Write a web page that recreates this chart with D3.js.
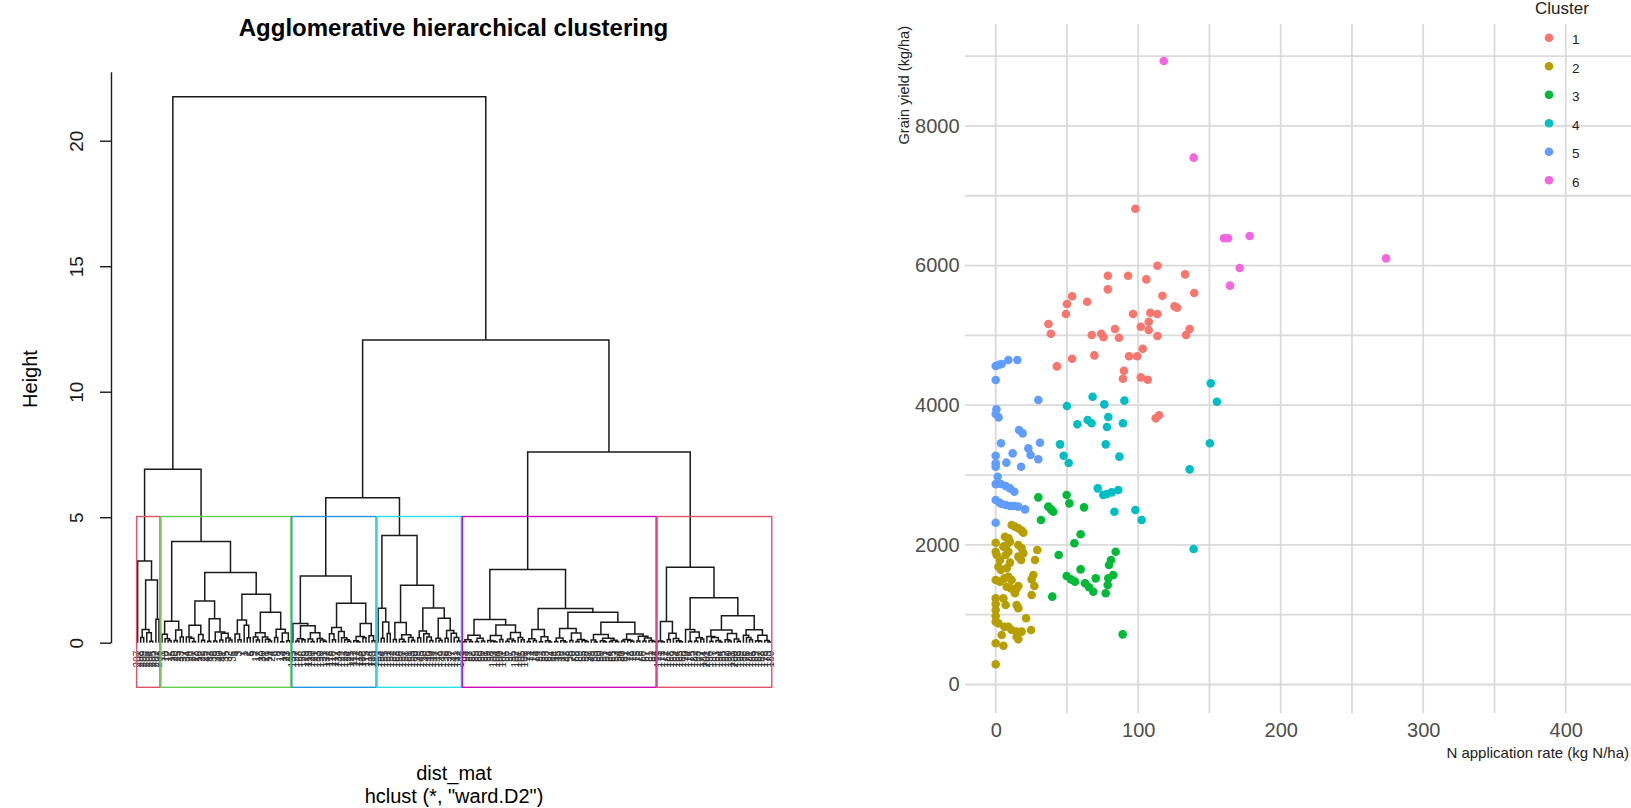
<!DOCTYPE html>
<html>
<head>
<meta charset="utf-8">
<script src="https://cdn.jsdelivr.net/npm/d3@7"></script>
<style>
  body { margin: 0; background: #fff; }
  svg { display: block; font-family: "Liberation Sans", Arial, sans-serif; }
</style>
</head>
<body>
<div id="chart"></div>
<script>
// datos: N aplicado (kg N/ha), rendimiento (kg/ha), por cluster
const cluster1 = [[98,6814],[113.5,5998],[78.7,5854],[92.9,5854],[105.7,5802],[132.9,5874],[78.7,5659],[139.3,5606],[117,5568],[53.6,5560],[64.2,5482],[50,5449],[125.5,5415],[127.3,5395],[49.3,5306],[96.4,5306],[108.5,5325],[113.5,5306],[107.4,5196],[37,5163],[101.8,5124],[83.7,5091],[136.1,5091],[107.4,5077],[38.7,5024],[67.4,5005],[74.1,5024],[75.6,4973],[86.5,4967],[113.5,4991],[133.6,5005],[103.2,4809],[53.6,4666],[69.2,4714],[93.6,4700],[99.3,4700],[42.9,4556],[90,4494],[89.3,4379],[101.8,4399],[106.7,4365],[112.3,3812],[114.6,3855]]
const cluster2 = [[11.2,2284],[13.5,2261],[15.9,2237],[18.2,2204],[19.4,2175],[0,2031],[6.5,2117],[8.9,2093],[10,2046],[7.7,1998],[5.4,1974],[15.9,1998],[18.2,1950],[19.4,1879],[29.2,1926],[0,1902],[0.7,1854],[3,1783],[1.9,1687],[3.7,1640],[8.9,1902],[7,1854],[10,1745],[7.7,1664],[15.9,1831],[17.8,1783],[27.6,1783],[26.4,1568],[25.2,1506],[27.1,1411],[25.2,1282],[0,1497],[3,1473],[6.1,1520],[8.9,1544],[11.2,1497],[7.7,1401],[10.7,1377],[14.7,1377],[13.5,1306],[15.9,1411],[0,1234],[0,1153],[0,1067],[0,981],[0,900],[5.4,1234],[7,1139],[14.7,1139],[15.9,1091],[1.9,876],[6.1,828],[8.9,828],[11.2,781],[14.7,757],[18.2,757],[21.3,948],[24.8,781],[4.2,709],[14.7,685],[15.9,647],[0,590],[5.4,556],[0,289]]
const cluster3 = [[29.9,2680],[49.8,2714],[51.7,2594],[36.9,2547],[38.8,2508],[40.4,2475],[62,2537],[31.8,2356],[59.6,2151],[55.2,2022],[44.2,1854],[84.2,1902],[80.9,1783],[79.5,1711],[59.6,1649],[49.8,1554],[52.8,1506],[55.6,1473],[70.2,1520],[62.7,1449],[65.5,1392],[68.5,1329],[82.5,1568],[79,1520],[78.6,1425],[77.2,1306],[39.7,1258],[89.1,718]]
const cluster4 = [[68,4122],[50,3988],[76.2,4012],[90.3,4065],[79,3831],[57.3,3726],[64.5,3788],[67.3,3741],[78.1,3688],[89.3,3741],[77.2,3439],[45.1,3439],[47.7,3277],[51.2,3172],[86.8,3263],[150.3,3454],[136.1,3081],[138.9,1940],[150.9,4313],[155.2,4050],[71.6,2809],[75.5,2714],[77.9,2728],[81.4,2752],[86,2785],[83.3,2475],[98,2499],[102.4,2356]]
const cluster5 = [[0,4561],[2.3,4580],[4.2,4590],[8.9,4647],[15.2,4647],[0,4361],[29.9,4074],[0.5,3941],[0,3874],[2,3826],[16.4,3645],[18.9,3597],[3.7,3454],[31.1,3463],[0,3277],[0,3167],[0,3120],[11.9,3310],[22.9,3382],[24.5,3287],[29.9,3225],[7.5,3177],[17.8,3119],[1.4,2976],[0,2870],[3.7,2871],[7,2843],[10,2809],[13.1,2761],[0,2642],[2.8,2604],[4.2,2585],[7,2570],[10,2556],[13.1,2556],[15.9,2547],[20.6,2508],[0,2317]]
const cluster6 = [[117.9,8929],[138.9,7545],[160.2,6390],[163,6390],[178.2,6423],[273.9,6103],[171.2,5965],[164.4,5712]]

const clusterNames = ["1", "2", "3", "4", "5", "6"]
const clusterColors = ["#F8766D", "#B79F00", "#00BA38", "#00BFC4", "#619CFF", "#F564E3"]
const boxColors = ["#DF536B", "#61D04F", "#2297E6", "#28E2E5", "#CD0BBC"]

const clusterMerges = [
    { id: "A", left: "6", right: "1", h: 6.91 },
    { id: "B", left: "3", right: "4", h: 5.78 },
    { id: "C", left: "2", right: "5", h: 7.60 },
    { id: "D", left: "B", right: "C", h: 12.06 },
    { id: "root", left: "A", right: "D", h: 21.75 }
]

const heightTicks = [0, 5, 10, 15, 20]
const xTicks = [0, 100, 200, 300, 400]
const yTicks = [0, 2000, 4000, 6000, 8000]

const width = 1631
const height = 808

const points = []
;[cluster1, cluster2, cluster3, cluster4, cluster5, cluster6].forEach((arr, ci) => {
    arr.forEach(d => points.push({ n: d[0], y: d[1], cluster: ci }))
})
const nLeaves = points.length

const svg = d3.select("div#chart").append("svg").attr("width", width).attr("height", height)

// ---------- ward.D2 dentro de cada cluster (datos escalados) ----------
const zN = (() => { const m = d3.mean(points, d => d.n), s = d3.deviation(points, d => d.n); return points.map(d => (d.n - m) / s) })()
const zY = (() => { const m = d3.mean(points, d => d.y), s = d3.deviation(points, d => d.y); return points.map(d => (d.y - m) / s) })()

function wardD2(members) {
    const n = members.length
    if (n === 1) return { leaf: members[0] }
    const D = d3.range(n).map(() => new Float64Array(n))
    for (let i = 0; i < n; i++) for (let j = i + 1; j < n; j++) {
        const a = zN[members[i]] - zN[members[j]], b = zY[members[i]] - zY[members[j]]
        D[i][j] = D[j][i] = a * a + b * b
    }
    const size = new Array(n).fill(1)
    const active = new Array(n).fill(true)
    const ids = d3.range(n).map(i => -(i + 1))
    const nodes = []
    const node = id => id < 0 ? { leaf: members[-id - 1] } : nodes[id - 1]
    for (let step = 1; step < n; step++) {
        let best = Infinity, bi = -1, bj = -1
        for (let i = 0; i < n; i++) {
            if (!active[i]) continue
            for (let j = i + 1; j < n; j++) {
                if (active[j] && D[i][j] < best) { best = D[i][j]; bi = i; bj = j }
            }
        }
        const ni = size[bi], nj = size[bj]
        for (let k = 0; k < n; k++) {
            if (!active[k] || k === bi || k === bj) continue
            const nk = size[k]
            D[bi][k] = D[k][bi] = ((ni + nk) * D[bi][k] + (nj + nk) * D[bj][k] - nk * best) / (ni + nj + nk)
        }
        // orden de R: primero los individuos, luego el cluster formado antes
        let a = ids[bi], b = ids[bj]
        if (a > 0 && b < 0) [a, b] = [b, a]
        if (a > 0 && b > 0 && a > b) [a, b] = [b, a]
        nodes.push({ left: node(a), right: node(b), h: Math.sqrt(Math.max(best, 0)) })
        ids[bi] = step; size[bi] = ni + nj; active[bj] = false
    }
    return nodes[n - 2]
}

const treeNodes = {}
clusterNames.forEach((name, ci) => {
    const members = d3.range(nLeaves).filter(i => points[i].cluster === ci)
    treeNodes[name] = wardD2(members)
    treeNodes[name].clusterIndex = ci
})
clusterMerges.forEach(m => {
    treeNodes[m.id] = { left: treeNodes[m.left], right: treeNodes[m.right], h: m.h }
})
const root = treeNodes["root"]

// orden de las hojas y posiciones
const order = []
const rank = new Array(nLeaves)
function walk(nd) {
    if (nd.leaf !== undefined) { order.push(nd.leaf); rank[nd.leaf] = order.length; return }
    walk(nd.left); walk(nd.right)
}
walk(root)

const allMerges = []
function place(nd) {
    if (nd.leaf !== undefined) { nd.x = rank[nd.leaf]; nd.hh = 0; return }
    place(nd.left); place(nd.right)
    nd.x = (nd.left.x + nd.right.x) / 2
    nd.hh = nd.h
    allMerges.push(nd)
}
place(root)

// ---------- dendrograma ----------
const xD = d3.scaleLinear().domain([0.66, nLeaves + 0.33]).range([136.6, 771.8])
const hD = d3.scaleLinear().domain([0, 22.75]).range([642.7, 71.7])

const dendro = svg.append("g").attr("class", "dendro")

dendro.append("g").selectAll("path").data(allMerges).join("path")
    .attr("d", d => `M${xD(d.left.x)},${hD(d.left.hh)}V${hD(d.h)}H${xD(d.right.x)}V${hD(d.right.hh)}`)
    .attr("fill", "none").attr("stroke", "#1a1a1a").attr("stroke-width", 1.5)

// etiquetas de las hojas
dendro.append("g").selectAll("text").data(order).join("text")
    .attr("transform", p => `translate(${xD(rank[p]) + 3.5},${hD(0) + 8}) rotate(-90)`)
    .attr("text-anchor", "end")
    .attr("font-size", 10)
    .attr("fill", "#333")
    .text(p => p + 1)

// rect.hclust(k = 6)
const sortedH = allMerges.map(m => m.h).sort((a, b) => b - a)
const cutTop = (sortedH[4] + sortedH[5]) / 2
const boxes = clusterNames.map(name => d3.extent(order.filter(p => points[p].cluster === treeNodes[name].clusterIndex), p => rank[p]))
    .sort((a, b) => a[0] - b[0])
dendro.append("g").selectAll("rect").data(boxes).join("rect")
    .attr("x", d => xD(d[0] - 0.34))
    .attr("y", hD(cutTop))
    .attr("width", d => xD(d[1] + 0.33) - xD(d[0] - 0.34))
    .attr("height", 687.3 - hD(cutTop))
    .attr("fill", "none")
    .attr("stroke", (d, i) => boxColors[i % boxColors.length])
    .attr("stroke-width", 1.4)

// eje de alturas
const hAxis = d3.axisLeft(hD).tickValues(heightTicks).tickSizeInner(11).tickSizeOuter(0)
const hAxisGroup = dendro.append("g").attr("transform", "translate(111,0)").call(hAxis)
hAxisGroup.select(".domain").attr("stroke", "#1a1a1a").attr("stroke-width", 1.4)
hAxisGroup.selectAll(".tick line").attr("stroke", "#1a1a1a").attr("stroke-width", 1.4)
hAxisGroup.selectAll(".tick text")
    .attr("x", 0).attr("dy", 0)
    .attr("transform", "translate(-28.5,0) rotate(-90)")
    .attr("text-anchor", "middle")
    .attr("font-size", 19).attr("fill", "#1a1a1a")
    .style("font-family", "'Liberation Sans', Arial, sans-serif")

dendro.append("text").attr("x", 453.5).attr("y", 36)
    .attr("text-anchor", "middle").attr("font-size", 24).attr("font-weight", "bold")
    .text("Agglomerative hierarchical clustering")
dendro.append("text").attr("transform", "translate(37,379) rotate(-90)")
    .attr("text-anchor", "middle").attr("font-size", 20).text("Height")
dendro.append("text").attr("x", 454).attr("y", 780)
    .attr("text-anchor", "middle").attr("font-size", 20).text("dist_mat")
dendro.append("text").attr("x", 454).attr("y", 803)
    .attr("text-anchor", "middle").attr("font-size", 20).text('hclust (*, "ward.D2")')

// ---------- dispersión ----------
const x = d3.scaleLinear().domain([0, 400]).range([995.7, 1565.7])
const y = d3.scaleLinear().domain([0, 8000]).range([684.5, 125.9])
const panel = { left: 965, right: 1640, top: 24, bottom: 713 }

const scatter = svg.append("g").attr("class", "scatter")
const grid = scatter.append("g")
grid.selectAll("line.v").data(d3.range(0, 451, 50)).join("line").attr("class", "v")
    .attr("x1", d => x(d)).attr("x2", d => x(d))
    .attr("y1", panel.top).attr("y2", panel.bottom)
grid.selectAll("line.h").data(d3.range(0, 9001, 1000)).join("line").attr("class", "h")
    .attr("x1", panel.left).attr("x2", panel.right)
    .attr("y1", d => y(d)).attr("y2", d => y(d))
grid.selectAll("line").attr("stroke", "#dadada").attr("stroke-width", 1.8)

const xAxis = d3.axisBottom(x).tickValues(xTicks).tickSize(0).tickPadding(10).tickFormat(d3.format("d"))
const yAxis = d3.axisLeft(y).tickValues(yTicks).tickSize(0).tickPadding(5.4).tickFormat(d3.format("d"))
const xAxisGroup = scatter.append("g").attr("transform", `translate(0,${panel.bottom})`).call(xAxis)
const yAxisGroup = scatter.append("g").attr("transform", `translate(${panel.left},0)`).call(yAxis)
;[xAxisGroup, yAxisGroup].forEach(g => {
    g.select(".domain").remove()
    g.selectAll("text").attr("font-size", 20).attr("fill", "#4d4d4d")
        .style("font-family", "'Liberation Sans', Arial, sans-serif")
})

scatter.append("g").selectAll("circle").data(points).join("circle")
    .attr("cx", d => x(d.n)).attr("cy", d => y(d.y)).attr("r", 4.3)
    .attr("fill", d => clusterColors[d.cluster])

scatter.append("text").attr("x", 1629).attr("y", 757.5)
    .attr("text-anchor", "end").attr("font-size", 15).attr("fill", "#222")
    .text("N application rate (kg N/ha)")
scatter.append("text").attr("transform", "translate(908.5,26) rotate(-90)")
    .attr("text-anchor", "end").attr("font-size", 14.5).attr("fill", "#222")
    .text("Grain yield (kg/ha)")

// leyenda
const legend = scatter.append("g")
legend.append("text").attr("x", 1535).attr("y", 14).attr("font-size", 17).attr("fill", "#222").text("Cluster")
const items = legend.selectAll("g.item").data(clusterNames).join("g").attr("class", "item")
    .attr("transform", (d, i) => `translate(1549,${37.7 + i * 28.5})`)
items.append("circle").attr("r", 4.3).attr("fill", (d, i) => clusterColors[i])
items.append("text").attr("x", 23).attr("y", 6.5).attr("font-size", 13.5).attr("fill", "#222").text(d => d)
</script>
</body>
</html>
